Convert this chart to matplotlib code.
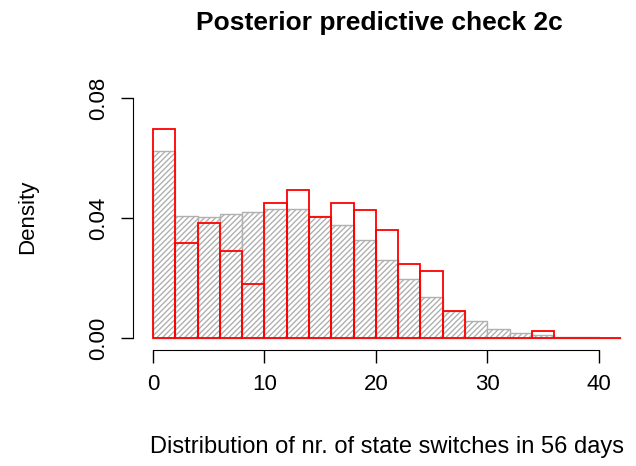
import numpy as np
import matplotlib.pyplot as plt

plt.rcParams['font.family'] = ['Liberation Sans', 'DejaVu Sans']
plt.rcParams['hatch.color'] = '#a8a8a8'
plt.rcParams['hatch.linewidth'] = 1.0

bin_edges = np.arange(0, 44, 2)
sim_density = [0.0623, 0.0407, 0.0402, 0.0412, 0.0419, 0.0429, 0.0429, 0.0406, 0.0377, 0.0327,
               0.0260, 0.0198, 0.0138, 0.0089, 0.0056, 0.0030, 0.0018, 0.0010, 0.0004, 0.0002, 0.0]
obs_density = [0.0696, 0.0316, 0.0382, 0.0290, 0.0179, 0.0449, 0.0493, 0.0404, 0.0449, 0.0427,
               0.0360, 0.0246, 0.0223, 0.0089, 0.0, 0.0, 0.0, 0.0022, 0.0, 0.0, 0.0]

fig = plt.figure(figsize=(6.36, 4.66), dpi=100)
ax = fig.add_axes([0.209, 0.249, 0.799, 0.573])
left = bin_edges[:-1]
ax.bar(left, sim_density, width=2, align='edge', color='white', edgecolor='#b0b0b0',
       hatch='//////', linewidth=1.0)
ax.bar(left, obs_density, width=2, align='edge', fill=False, edgecolor='red', linewidth=1.3)

ax.set_xlim(-1.8, 43.8)
ax.set_ylim(-0.004, 0.085)
for s in ['top', 'right']:
    ax.spines[s].set_visible(False)
ax.spines['bottom'].set_bounds(0, 40)
ax.spines['left'].set_bounds(0, 0.08)
ax.set_xticks([0, 10, 20, 30, 40])
ax.set_yticks([0.0, 0.04, 0.08])
ax.set_yticklabels(['0.00', '0.04', '0.08'], rotation=90, va='center')
ax.tick_params(labelsize=16, length=9, width=1)
ax.tick_params(axis='x', pad=8)
ax.tick_params(axis='y', pad=8)
ax.set_ylabel('Density', fontsize=16, labelpad=36)
ax.set_xlabel('Distribution of nr. of state switches in 56 days', fontsize=17, labelpad=30)
ax.set_title('Posterior predictive check 2c', fontsize=19, fontweight='bold', pad=38, x=0.485)

fig.savefig('out.png', dpi=100)
